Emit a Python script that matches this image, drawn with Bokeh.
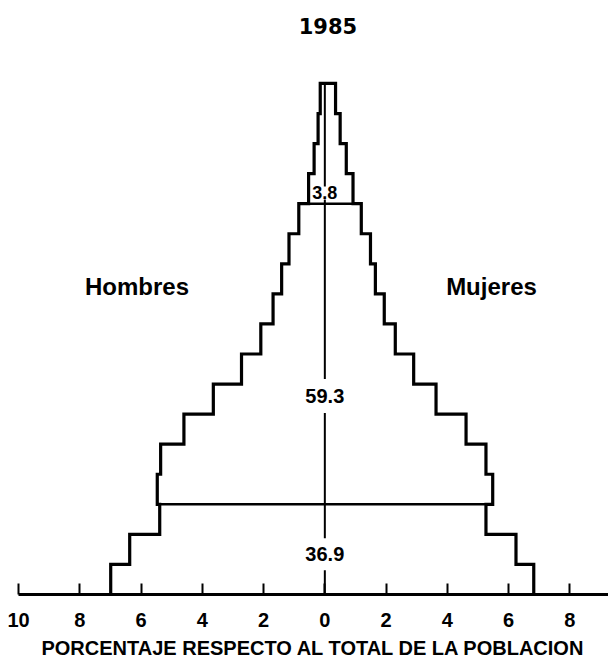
import numpy as np
from bokeh.plotting import figure
from bokeh.models import Range1d, FixedTicker, Label
from bokeh.embed import file_html
from bokeh.resources import INLINE

# ---- data -------------------------------------------------------------
year = "1985"
age_groups = ["0-4", "5-9", "10-14", "15-19", "20-24", "25-29", "30-34", "35-39",
              "40-44", "45-49", "50-54", "55-59", "60-64", "65-69", "70-74",
              "75-79", "80+"]
age_start = [0, 5, 10, 15, 20, 25, 30, 35, 40, 45, 50, 55, 60, 65, 70, 75, 80]
age_width = 5
hombres = [6.99, 6.37, 5.39, 5.47, 5.36, 4.60, 3.64, 2.72, 2.09, 1.69, 1.41,
           1.17, 0.85, 0.53, 0.35, 0.22, 0.15]
mujeres = [6.82, 6.24, 5.26, 5.48, 5.26, 4.61, 3.63, 2.90, 2.30, 1.94, 1.65,
           1.49, 1.19, 0.92, 0.70, 0.50, 0.35]
broad_edges = [15, 65]                 # 0-14 | 15-64 | 65+
broad_totals = ["36.9", "59.3", "3.8"]
broad_label_age = [6.7, 33.0, 66.8]
x_ticks = [-10, -8, -6, -4, -2, 0, 2, 4, 6, 8]
side_labels = ["Hombres", "Mujeres"]
axis_title = "PORCENTAJE RESPECTO AL TOTAL DE LA POBLACION"

# ---- figure -------------------------------------------------------------
p = figure(width=608, height=665, x_range=Range1d(-10, 9.26), y_range=Range1d(0, 98.8),
           output_backend="svg", toolbar_location=None, y_axis_location=None,
           min_border_left=18, min_border_right=0, min_border_top=0,
           min_border_bottom=71)
p.outline_line_color = None
p.grid.visible = False
p.background_fill_color = "white"
p.border_fill_color = "white"

h = np.array(hombres)
m = np.array(mujeres)
lo = np.array(age_start, dtype=float)
hi = lo + age_width

# outline of the pyramid (step shape)
xs_left = np.ravel(np.column_stack([-h, -h]))
ys_left = np.ravel(np.column_stack([lo, hi]))
xs_right = np.ravel(np.column_stack([m, m]))[::-1]
ys_right = np.ravel(np.column_stack([lo, hi]))[::-1]
xs = np.concatenate([xs_left, xs_right])
ys = np.concatenate([ys_left, ys_right])

# center line
p.segment(x0=[0], y0=[0], x1=[0], y1=[hi[-1]], line_color="black", line_width=2)

outline = p.line(xs, ys, line_color="black", line_width=3.2, line_join="miter")
outline.level = "overlay"

# horizontal dividers between broad age groups
dx0, dx1, dy = [], [], []
for e in broad_edges:
    i = age_start.index(e)
    dx0.append(-max(h[i - 1], h[i]))
    dx1.append(max(m[i - 1], m[i]))
    dy.append(e)
div = p.segment(x0=dx0, y0=dy, x1=dx1, y1=dy, line_color="black", line_width=2.6)
div.level = "overlay"

# broad-group totals
pads = [9, 10, 0]
sizes = ["20px", "20px", "18px"]
for t, ya, pd, fs in zip(broad_totals, broad_label_age, pads, sizes):
    p.add_layout(Label(x=0, y=ya, text=t, text_align="center", text_baseline="middle",
                       text_font="Liberation Sans", text_font_style="bold",
                       text_font_size=fs, text_color="black",
                       background_fill_color="white", padding=pd))

# side labels
for t, xv in zip(side_labels, [-6.13, 5.44]):
    p.add_layout(Label(x=xv, y=51.25, text=t, text_align="center", text_baseline="middle",
                       text_font="Liberation Sans", text_font_style="bold",
                       text_font_size="24px", text_color="black"))

# title
p.add_layout(Label(x=0.1, y=94.6, text=year, text_align="center", text_baseline="middle",
                   text_font="DejaVu Sans", text_font_style="bold",
                   text_font_size="21px", text_color="black"))

# x axis
ax = p.xaxis[0]
ax.ticker = FixedTicker(ticks=x_ticks)
ax.major_label_overrides = {t: str(abs(t)) for t in x_ticks}
ax.major_tick_in = 11
ax.major_tick_out = 0
ax.major_tick_line_width = 2
ax.minor_tick_line_color = None
ax.axis_line_width = 3
ax.axis_line_color = "black"
ax.major_tick_line_color = "black"
ax.major_label_standoff = 18
ax.major_label_text_font = "Liberation Sans"
ax.major_label_text_font_style = "bold"
ax.major_label_text_font_size = "20px"
ax.major_label_text_color = "black"
ax.axis_label = axis_title
ax.axis_label_standoff = 7
ax.axis_label_text_font = "Liberation Sans"
ax.axis_label_text_font_style = "bold"
ax.axis_label_text_font_size = "20px"
ax.axis_label_text_color = "black"

open("out.html", "w").write(file_html(p, INLINE))
